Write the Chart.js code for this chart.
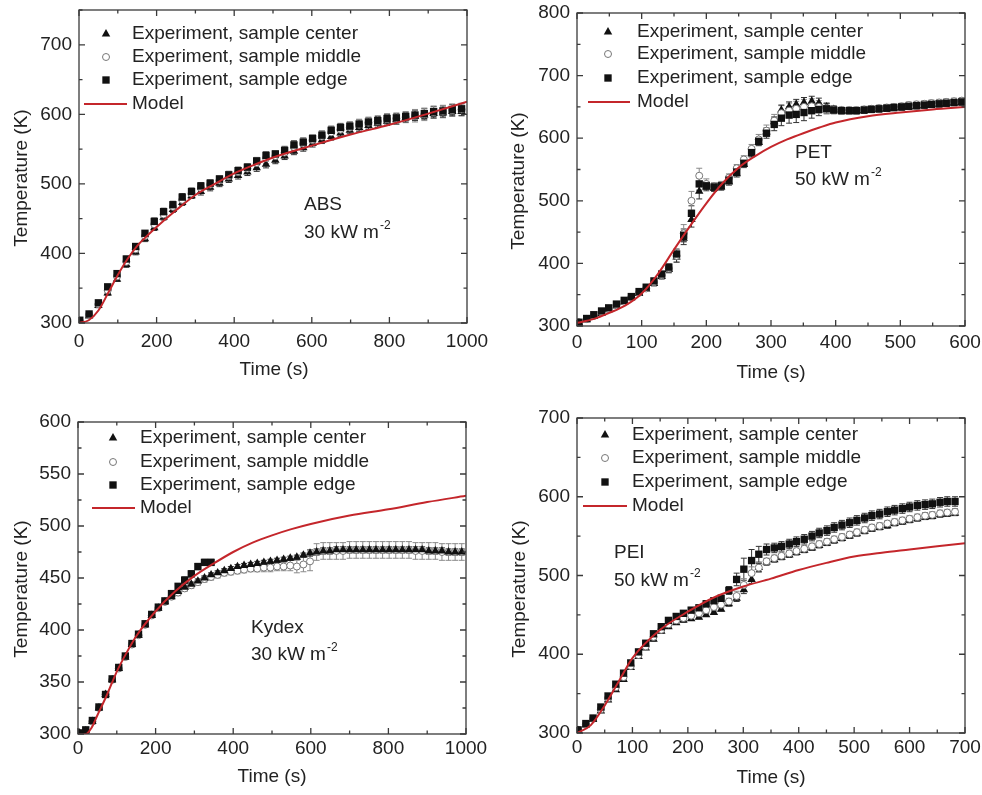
<!DOCTYPE html>
<html lang="en">
<head>
<meta charset="UTF-8">
<title>Surface temperature histories</title>
<script src="https://cdn.jsdelivr.net/npm/chart.js"></script>
<style>
  body { margin: 0; background: #fff; }
  .panel { position: absolute; }
</style>
</head>
<body>

<div class="panel" style="left:0;top:0;width:490px;height:400px"><canvas id="absChart"></canvas></div>
<div class="panel" style="left:490px;top:0;width:492px;height:400px"><canvas id="petChart"></canvas></div>
<div class="panel" style="left:0;top:400px;width:490px;height:395px"><canvas id="kydexChart"></canvas></div>
<div class="panel" style="left:490px;top:400px;width:492px;height:395px"><canvas id="peiChart"></canvas></div>

<script>
// ---- ABS, 30 kW/m2 ----
var absTime   = [2,26,50,74,98,122,146,170,194,218,242,266,290,314,338,362,386,410,434,458,482,506,530,554,578,602,626,650,674,698,722,746,770,794,818,842,866,890,914,938,962,986];
var absCenter = [302,310,325,343,363,384,402,421,437,452,463,473,483,489,495,501,507,512,517,523,528,534,540,547,552,558,563,568,573,577,581,584,587,590,592,595,597,599,601,602,604,604];
var absMiddle = [303,312,327,347,367,388,406,425,442,456,467,477,486,494,499,505,511,517,522,530,537,540,545,553,558,563,568,574,578,581,585,588,590,593,594,596,598,600,603,604,606,607];
var absEdge   = [304,313,329,352,371,392,410,429,446,460,470,481,489,497,501,507,513,519,524,533,541,543,548,556,560,565,570,577,581,583,586,589,591,594,595,597,599,601,604,605,607,608];
var absErrCenter = [2,2,3,3,3,4,4,4,4,4,4,4,4,5,5,5,5,5,5,5,5,5,5,5,5,5,5,5,5,5,6,6,6,6,6,6,6,6,6,6,6,6];
var absErrMiddle = [2,3,3,4,5,5,5,6,6,6,6,7,7,7,7,7,7,7,7,8,8,8,8,8,8,8,8,8,8,8,8,8,8,8,8,8,9,9,9,9,9,9];
var absErrEdge   = [2,2,3,3,4,4,4,4,5,5,5,5,5,5,5,5,5,5,5,5,5,5,6,6,6,6,6,6,6,6,6,6,6,6,6,6,7,7,7,7,7,7];
var absModelTime = [0,25,50,75,100,125,150,175,200,250,300,350,400,450,500,600,700,800,900,1000];
var absModelTemp = [300,304,318,343,369,392,411,425,438,462,484,500,515,527,538,555,571,585,601,618];

// ---- PET, 50 kW/m2 ----
var petTime   = [3,15,26,38,49,61,73,84,96,107,119,131,142,154,165,177,189,200,212,223,235,247,258,270,281,293,305,316,328,339,351,363,374,386,397,409,421,432,444,455,467,479,490,502,513,525,537,548,560,571,583,595];
var petCenter = [305,310,315,320,326,332,338,345,352,359,368,379,390,410,440,470,515,522,520,522,530,543,558,575,593,610,626,645,650,654,657,659,656,650,646,644,643,643,644,645,646,647,648,649,650,651,652,653,654,655,656,657];
var petMiddle = [306,311,316,322,327,333,339,346,353,360,370,381,392,412,448,500,540,527,523,525,537,552,566,583,598,612,628,640,644,647,650,651,650,648,646,645,645,645,646,647,648,649,650,651,653,654,655,656,657,658,659,660];
var petEdge   = [306,312,318,324,329,335,341,347,355,362,372,383,394,415,445,480,527,524,522,524,533,546,560,577,595,608,622,632,637,638,641,644,646,647,645,644,644,644,645,646,647,648,649,650,651,652,653,654,655,656,657,658];
var petErrCenter = [2,2,2,2,2,2,3,3,3,3,4,4,5,8,10,12,12,6,5,5,5,5,5,5,5,6,8,8,8,8,8,8,8,6,5,5,4,4,4,4,4,4,4,4,4,4,4,4,4,4,4,4];
var petErrMiddle = [2,2,2,2,3,3,3,3,3,4,4,5,6,10,14,15,12,8,6,6,6,6,6,7,8,9,10,12,12,12,12,12,10,8,6,5,5,5,5,5,5,5,5,5,5,5,5,5,5,5,5,5];
var petErrEdge   = [2,2,2,2,2,3,3,3,3,3,4,4,5,8,10,12,10,6,5,5,5,5,5,5,6,8,10,12,13,13,13,12,10,8,6,5,5,5,5,5,5,5,5,5,5,5,5,5,5,5,5,5];
var petModelTime = [0,25,50,75,100,125,150,175,200,225,250,275,300,325,350,375,400,450,500,550,600];
var petModelTemp = [305,311,321,333,352,383,422,460,496,528,553,571,586,598,608,617,625,635,641,646,650];

// ---- Kydex, 30 kW/m2 (edge thermocouple lost after ~340 s) ----
var kydexTime   = [3,20,37,54,71,88,105,122,139,156,173,190,207,224,241,258,275,292,309,326,343,360,377,394,411,428,445,462,479,496,513,530,547,564,581,598,615,632,649,666,683,700,717,734,751,768,785,802,819,836,853,870,887,904,921,938,955,972,989];
var kydexCenter = [301,303,312,325,338,352,363,374,386,395,405,414,421,427,432,437,441,444,447,450,453,455,457,459,461,462,463,464,465,466,467,468,469,470,472,474,475,476,476,477,477,477,477,477,477,477,477,477,477,477,477,477,477,476,476,476,475,475,475];
var kydexMiddle = [301,303,312,325,338,352,363,374,386,395,405,414,421,427,432,436,440,443,446,449,451,453,455,456,457,458,459,459,460,460,461,461,462,461,463,466,475,476,476,476,476,477,477,477,477,477,477,477,477,477,477,476,476,476,476,475,475,475,475];
var kydexEdge   = [301,304,313,326,338,353,364,375,387,396,406,415,422,428,435,442,448,454,461,465,465];
var kydexErrCenter = [2,2,2,2,2,2,2,2,2,2,2,2,2,2,2,2,2,2,2,2,2,2,2,2,2,2,2,2,2,2,2,2,2,2,2,3,3,3,3,3,3,3,3,3,3,3,3,3,3,3,3,3,3,3,3,3,3,3,3];
var kydexErrMiddle = [2,2,2,2,2,2,2,2,2,2,2,2,2,2,2,3,3,3,3,3,3,3,3,3,3,3,3,3,4,4,4,4,5,6,7,9,8,8,8,8,8,8,8,8,8,8,8,8,8,8,8,8,8,8,8,8,8,8,8];
var kydexErrEdge   = [2,2,2,2,2,2,2,2,2,2,2,2,2,2,2,2,3,3,3,3,3];
var kydexModelTime = [0,20,35,50,75,100,125,150,200,250,300,350,400,450,500,550,600,700,800,900,1000];
var kydexModelTemp = [300,300,306,318,338,360,378,394,418,437,452,464,475,484,491,497,502,510,516,523,529];

// ---- PEI, 50 kW/m2 ----
var peiTime   = [2,16,29,43,56,70,84,97,111,124,138,152,165,179,192,206,220,233,247,260,274,288,301,315,328,342,356,369,383,396,410,424,437,451,464,478,492,505,519,532,546,560,573,587,600,614,628,641,655,668,682];
var peiCenter = [303,310,317,328,342,355,368,383,397,408,419,429,435,440,443,445,447,450,453,457,464,471,482,495,510,517,520,523,526,529,532,535,538,541,544,547,550,553,556,559,561,563,566,568,570,572,574,575,577,578,579];
var peiMiddle = [304,311,318,330,344,358,371,385,399,410,422,431,438,443,446,449,452,456,460,463,467,474,488,503,510,518,522,525,528,531,534,537,540,543,546,549,552,555,558,561,563,566,568,570,572,574,576,577,579,580,581];
var peiEdge   = [304,312,319,333,347,362,376,389,403,414,426,435,443,448,452,456,459,464,468,471,481,495,508,519,527,533,535,537,540,543,546,550,554,557,561,564,567,570,573,576,578,581,583,585,587,589,590,591,593,594,594];
var peiErrCenter = [2,2,2,2,2,2,2,2,2,2,2,2,2,2,2,2,2,2,2,2,3,4,5,5,5,4,3,3,3,3,3,3,3,3,3,3,3,3,3,3,3,3,3,3,3,3,3,3,3,3,3];
var peiErrMiddle = [2,2,2,2,3,3,3,3,3,3,3,3,3,3,3,3,3,3,3,3,4,6,8,8,6,4,4,4,4,4,4,4,4,4,4,4,4,4,4,4,4,4,4,4,4,4,4,4,4,4,4];
var peiErrEdge   = [3,3,3,3,3,3,3,3,3,3,3,3,3,3,3,3,3,4,4,4,5,8,14,14,10,7,6,6,6,6,6,6,6,6,6,6,6,6,6,6,6,6,6,6,6,6,6,6,6,6,6];
var peiModelTime = [0,25,50,75,100,150,200,250,300,350,400,450,500,550,600,650,700];
var peiModelTemp = [300,310,335,365,395,431,454,473,486,496,507,516,524,529,533,537,541];

var FONT = "'Liberation Sans', Arial, Helvetica, sans-serif";
var INK = '#222';
var RED = '#c4262b';
var legendOrder = ['Experiment, sample center', 'Experiment, sample middle', 'Experiment, sample edge', 'Model'];

Chart.defaults.font.family = FONT;
Chart.defaults.color = INK;

function points(times, temps, errs) {
    return temps.map(function(v, i) { return { x: times[i], y: v, e: errs ? errs[i] : 0 }; });
}

// vertical error bars with caps, drawn underneath the markers
var errorBars = {
    id: 'errorBars',
    beforeDatasetsDraw: function(chart) {
        var ctx = chart.ctx, a = chart.chartArea, xs = chart.scales.x, ys = chart.scales.y;
        ctx.save();
        ctx.beginPath();
        ctx.rect(a.left, a.top, a.right - a.left, a.bottom - a.top);
        ctx.clip();
        ctx.lineWidth = 1;
        chart.data.datasets.forEach(function(ds) {
            if (!ds.errColor) return;
            ctx.strokeStyle = ds.errColor;
            ctx.beginPath();
            ds.data.forEach(function(p) {
                var px = xs.getPixelForValue(p.x);
                var hi = ys.getPixelForValue(p.y + p.e);
                var lo = ys.getPixelForValue(p.y - p.e);
                ctx.moveTo(px, hi); ctx.lineTo(px, lo);
                ctx.moveTo(px - 3, hi); ctx.lineTo(px + 3, hi);
                ctx.moveTo(px - 3, lo); ctx.lineTo(px + 3, lo);
            });
            ctx.stroke();
        });
        ctx.restore();
    }
};

// closed frame with inward major/minor ticks on all four sides
var frameTicks = {
    id: 'frameTicks',
    afterDraw: function(chart) {
        var ctx = chart.ctx, a = chart.chartArea, xs = chart.scales.x, ys = chart.scales.y;
        ctx.save();
        ctx.strokeStyle = '#3a3a3a';
        ctx.lineWidth = 1.3;
        ctx.strokeRect(a.left, a.top, a.right - a.left, a.bottom - a.top);
        ctx.beginPath();
        var xv = xs.ticks.map(function(t) { return t.value; });
        xv.forEach(function(v, i) {
            var p = xs.getPixelForValue(v);
            ctx.moveTo(p, a.bottom); ctx.lineTo(p, a.bottom - 6);
            ctx.moveTo(p, a.top); ctx.lineTo(p, a.top + 6);
            if (i < xv.length - 1) {
                var m = xs.getPixelForValue((v + xv[i + 1]) / 2);
                ctx.moveTo(m, a.bottom); ctx.lineTo(m, a.bottom - 3.5);
                ctx.moveTo(m, a.top); ctx.lineTo(m, a.top + 3.5);
            }
        });
        var yv = ys.ticks.map(function(t) { return t.value; });
        var step = yv[1] - yv[0];
        yv.push(yv[yv.length - 1] + step);
        yv.forEach(function(v, i) {
            var p = ys.getPixelForValue(v);
            if (p >= a.top - 0.5) {
                ctx.moveTo(a.left, p); ctx.lineTo(a.left + 6, p);
                ctx.moveTo(a.right, p); ctx.lineTo(a.right - 6, p);
            }
            if (i < yv.length - 1) {
                var m = ys.getPixelForValue(v + step / 2);
                if (m >= a.top - 0.5) {
                    ctx.moveTo(a.left, m); ctx.lineTo(a.left + 3.5, m);
                    ctx.moveTo(a.right, m); ctx.lineTo(a.right - 3.5, m);
                }
            }
        });
        ctx.stroke();
        ctx.restore();
    }
};

// legend block sitting inside the plot area
var insideLegend = {
    id: 'insideLegend',
    afterDraw: function(chart, args, o) {
        var ctx = chart.ctx;
        ctx.save();
        ctx.font = '19px ' + FONT;
        ctx.textBaseline = 'middle';
        ctx.textAlign = 'left';
        legendOrder.forEach(function(label, row) {
            var ds = chart.data.datasets.filter(function(d) { return d.label === label; })[0];
            var y = o.rows[row];
            if (ds.showLine) {
                ctx.strokeStyle = ds.borderColor;
                ctx.lineWidth = ds.borderWidth;
                ctx.beginPath();
                ctx.moveTo(o.line[0], y); ctx.lineTo(o.line[1], y);
                ctx.stroke();
            } else {
                ctx.fillStyle = ds.pointBackgroundColor;
                ctx.strokeStyle = ds.pointBorderColor;
                ctx.lineWidth = ds.pointBorderWidth;
                Chart.helpers.drawPoint(ctx, {
                    pointStyle: ds.pointStyle, radius: ds.pointRadius,
                    borderWidth: ds.pointBorderWidth, rotation: 0
                }, o.mark, y);
            }
            ctx.fillStyle = INK;
            ctx.fillText(label, o.text, y);
        });
        ctx.restore();
    }
};

var axisTitles = {
    id: 'axisTitles',
    afterDraw: function(chart, args, o) {
        var ctx = chart.ctx;
        ctx.save();
        ctx.font = '19px ' + FONT;
        ctx.fillStyle = INK;
        ctx.textAlign = 'center';
        ctx.textBaseline = 'middle';
        ctx.fillText('Time (s)', o.x[0], o.x[1]);
        ctx.translate(o.y[0], o.y[1]);
        ctx.rotate(-Math.PI / 2);
        ctx.fillText('Temperature (K)', 0, 0);
        ctx.restore();
    }
};

// material name and heat flux, with a raised "-2" exponent
var materialNote = {
    id: 'materialNote',
    afterDraw: function(chart, args, o) {
        var ctx = chart.ctx;
        ctx.save();
        ctx.font = '19px ' + FONT;
        ctx.fillStyle = INK;
        ctx.textAlign = 'left';
        ctx.textBaseline = 'middle';
        ctx.fillText(o.name, o.x, o.y[0]);
        var base = o.flux + ' kW m';
        ctx.fillText(base, o.x, o.y[1]);
        var w = ctx.measureText(base).width;
        ctx.font = '12px ' + FONT;
        ctx.fillText('-2', o.x + w + 1, o.y[1] - 7);
        ctx.restore();
    }
};

function markerSet(label, data, style, radius, fill, stroke, bw, errColor, order) {
    return {
        label: label, data: data, showLine: false,
        pointStyle: style, pointRadius: radius, pointHoverRadius: radius,
        pointBackgroundColor: fill, pointBorderColor: stroke, pointBorderWidth: bw,
        backgroundColor: fill, borderColor: stroke,
        errColor: errColor, order: order
    };
}

function buildPanel(canvasId, p) {
    var datasets = [
        { label: 'Model', data: p.model, showLine: true, pointRadius: 0, borderColor: RED,
          borderWidth: 2, cubicInterpolationMode: 'monotone', order: 0 },
        markerSet('Experiment, sample edge', p.edge, 'rect', 5.2, '#111', '#111', 0, '#333', 1),
        markerSet('Experiment, sample middle', p.middle, 'circle', 3.5, '#fff', '#777', 1, '#8a8a8a', p.centerOnTop ? 3 : 2),
        markerSet('Experiment, sample center', p.center, 'triangle', 4.9, '#111', '#111', 0, '#333', p.centerOnTop ? 2 : 3)
    ];
    var plain = function(v) { return String(v); };
    return new Chart(document.getElementById(canvasId), {
        type: 'scatter',
        data: { datasets: datasets },
        options: {
            responsive: true,
            maintainAspectRatio: false,
            animation: false,
            layout: { padding: { left: 0, top: p.area.top, right: p.area.right, bottom: 0 } },
            scales: {
                x: {
                    type: 'linear', min: p.xMin, max: p.xMax,
                    ticks: { stepSize: p.xStep, padding: p.xPad, font: { size: 19 }, color: INK,
                             includeBounds: false, callback: plain },
                    grid: { display: false, drawTicks: false },
                    border: { display: false },
                    afterFit: function(s) { s.height = p.area.xHeight; s.paddingLeft = 0; s.paddingRight = 0; }
                },
                y: {
                    type: 'linear', min: p.yMin, max: p.yMax,
                    ticks: { stepSize: p.yStep, padding: 7, font: { size: 19 }, color: INK,
                             includeBounds: false, callback: plain },
                    grid: { display: false, drawTicks: false },
                    border: { display: false },
                    afterFit: function(s) { s.width = p.area.left; s.paddingTop = 0; s.paddingBottom = 0; }
                }
            },
            plugins: {
                legend: { display: false },
                tooltip: { enabled: false },
                insideLegend: p.legend,
                axisTitles: p.titles,
                materialNote: p.note
            }
        },
        plugins: [errorBars, frameTicks, insideLegend, axisTitles, materialNote]
    });
}

buildPanel('absChart', {
    center: points(absTime, absCenter, absErrCenter),
    middle: points(absTime, absMiddle, absErrMiddle),
    edge: points(absTime, absEdge, absErrEdge),
    model: points(absModelTime, absModelTemp),
    xMin: 0, xMax: 1000, xStep: 200, xPad: 7,
    yMin: 300, yMax: 750, yStep: 100,
    area: { left: 79, top: 10, right: 23, xHeight: 77 },
    legend: { rows: [34, 57, 80, 104], mark: 106, text: 132, line: [84, 127] },
    titles: { x: [274, 370], y: [22, 178] },
    note: { name: 'ABS', flux: '30', x: 304, y: [205, 233] }
});

buildPanel('petChart', {
    center: points(petTime, petCenter, petErrCenter),
    middle: points(petTime, petMiddle, petErrMiddle),
    edge: points(petTime, petEdge, petErrEdge),
    model: points(petModelTime, petModelTemp),
    xMin: 0, xMax: 600, xStep: 100, xPad: 5,
    yMin: 300, yMax: 800, yStep: 100,
    area: { left: 87, top: 13, right: 17, xHeight: 74 },
    legend: { rows: [32, 54, 78, 102], mark: 118, text: 147, line: [98, 140] },
    titles: { x: [281, 373], y: [29, 181] },
    note: { name: 'PET', flux: '50', x: 305, y: [153, 180] }
});

buildPanel('kydexChart', {
    center: points(kydexTime, kydexCenter, kydexErrCenter),
    middle: points(kydexTime, kydexMiddle, kydexErrMiddle),
    edge: points(kydexTime, kydexEdge, kydexErrEdge),
    model: points(kydexModelTime, kydexModelTemp),
    centerOnTop: true,
    xMin: 0, xMax: 1000, xStep: 200, xPad: 3,
    yMin: 300, yMax: 600, yStep: 50,
    area: { left: 78, top: 22, right: 24, xHeight: 61 },
    legend: { rows: [38, 62, 85, 108], mark: 113, text: 140, line: [92, 135] },
    titles: { x: [272, 377], y: [22, 189] },
    note: { name: 'Kydex', flux: '30', x: 251, y: [228, 255] }
});

buildPanel('peiChart', {
    center: points(peiTime, peiCenter, peiErrCenter),
    middle: points(peiTime, peiMiddle, peiErrMiddle),
    edge: points(peiTime, peiEdge, peiErrEdge),
    model: points(peiModelTime, peiModelTemp),
    xMin: 0, xMax: 700, xStep: 100, xPad: 3,
    yMin: 300, yMax: 700, yStep: 100,
    area: { left: 87, top: 18, right: 17, xHeight: 62 },
    legend: { rows: [35, 58, 82, 106], mark: 115, text: 142, line: [93, 137] },
    titles: { x: [281, 378], y: [30, 189] },
    note: { name: 'PEI', flux: '50', x: 124, y: [153, 181] }
});
</script>

</body>
</html>
